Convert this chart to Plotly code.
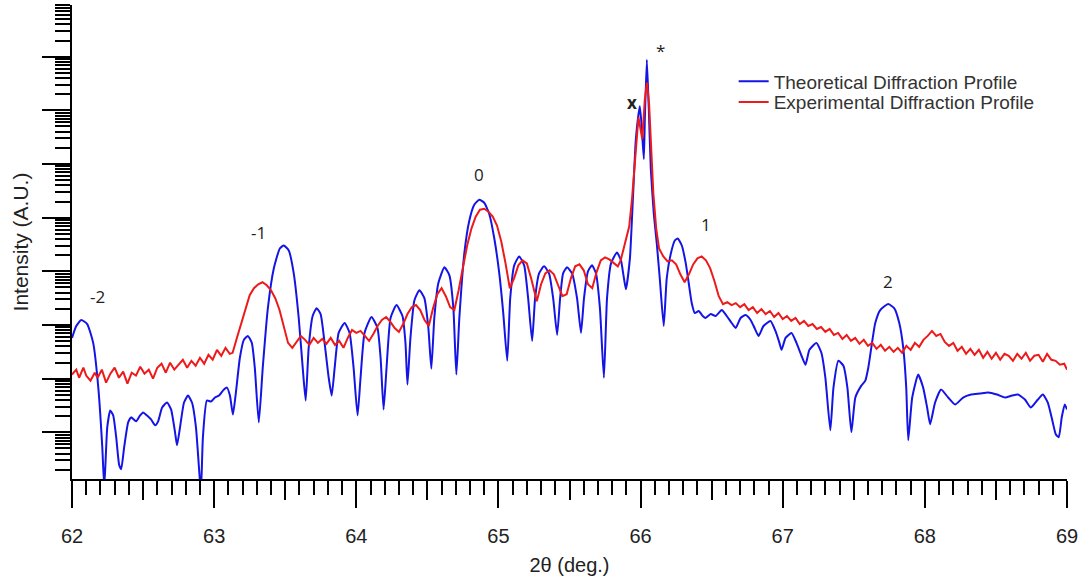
import plotly.graph_objects as go

# ---------------- data ----------------
x_ticks = [62, 63, 64, 65, 66, 67, 68, 69]
x_tick_labels = ["62", "63", "64", "65", "66", "67", "68", "69"]
x_half_ticks = [62.5, 63.5, 64.5, 65.5, 66.5, 67.5, 68.5]
y_major = [1, 10, 100, 1e3, 1e4, 1e5, 1e6, 1e7]

blue_x = [
    62.0, 62.030, 62.065, 62.107, 62.149, 62.185, 62.213, 62.227, 62.248, 62.269,
    62.290, 62.311, 62.332, 62.346, 62.367, 62.395, 62.416, 62.451, 62.479, 62.500,
    62.528, 62.556, 62.585, 62.606, 62.634, 62.669, 62.697, 62.725, 62.739, 62.760,
    62.788, 62.816, 62.844, 62.872, 62.893, 62.907, 62.921, 62.949, 62.978, 63.006,
    63.034, 63.062, 63.090, 63.111, 63.132, 63.153, 63.181, 63.209, 63.237, 63.265,
    63.286, 63.314, 63.342, 63.378, 63.420, 63.462, 63.490, 63.525, 63.560, 63.595,
    63.623, 63.644, 63.665, 63.693, 63.721, 63.749, 63.777, 63.806, 63.827, 63.848,
    63.876, 63.918, 63.953, 63.981, 64.009, 64.030, 64.058, 64.107, 64.149, 64.171,
    64.192, 64.213, 64.241, 64.283, 64.325, 64.346, 64.360, 64.381, 64.409, 64.444,
    64.479, 64.507, 64.528, 64.549, 64.577, 64.620, 64.655, 64.683, 64.704, 64.725,
    64.760, 64.795, 64.830, 64.865, 64.900, 64.935, 64.971, 65.006, 65.034, 65.062,
    65.083, 65.111, 65.146, 65.181, 65.209, 65.237, 65.258, 65.286, 65.321, 65.356,
    65.385, 65.413, 65.434, 65.455, 65.483, 65.518, 65.553, 65.581, 65.602, 65.630,
    65.658, 65.686, 65.714, 65.742, 65.764, 65.792, 65.834, 65.862, 65.883, 65.897,
    65.925, 65.946, 65.967, 65.995, 66.009, 66.023, 66.030, 66.044, 66.058, 66.072,
    66.093, 66.114, 66.135, 66.163, 66.184, 66.213, 66.241, 66.262, 66.290, 66.318,
    66.339, 66.360, 66.381, 66.409, 66.437, 66.458, 66.493, 66.528, 66.571, 66.606,
    66.641, 66.669, 66.704, 66.739, 66.774, 66.802, 66.830, 66.865, 66.914, 66.949,
    66.977, 66.992, 67.020, 67.062, 67.097, 67.132, 67.160, 67.188, 67.237, 67.272,
    67.300, 67.335, 67.357, 67.392, 67.427, 67.455, 67.483, 67.511, 67.553, 67.581,
    67.602, 67.623, 67.651, 67.686, 67.742, 67.784, 67.820, 67.848, 67.869, 67.883,
    67.911, 67.953, 67.988, 68.016, 68.037, 68.072, 68.114, 68.164, 68.213, 68.269,
    68.325, 68.388, 68.444, 68.507, 68.564, 68.613, 68.655, 68.704, 68.746, 68.795,
    68.830, 68.865, 68.900, 68.921, 68.942, 68.963, 68.984, 69.0,
]
blue_y = [
    57.4, 95.8, 124, 104, 46.4, 6.81, 0.528, 0.0958, 1.24, 2.56,
    2.06, 0.808, 0.245, 0.206, 0.528, 1.53, 1.90, 1.60, 2.06, 2.35,
    2.06, 1.74, 1.35, 1.60, 2.90, 3.59, 2.67, 1.00, 0.574, 1.24,
    3.59, 4.84, 3.59, 1.24, 0.225, 0.0774, 0.808, 3.91, 3.75, 4.45,
    4.84, 5.99, 6.81, 4.84, 2.15, 5.50, 24.5, 52.8, 62.6, 46.4,
    16.0, 1.53, 16.0, 206, 1137, 2666, 3030, 2448, 918, 135,
    16.0, 3.91, 37.5, 147, 206, 160, 46.4, 10.4, 4.84, 16.0,
    71.1, 109, 71.1, 16.0, 2.06, 10.4, 71.1, 141, 88.0, 24.5,
    2.67, 16.0, 135, 235, 147, 46.4, 7.74, 57.4, 290, 445,
    316, 88.0, 15.3, 135, 599, 1186, 843, 206, 11.9, 135,
    2154, 8799, 17408, 21544, 18957, 11861, 4084, 918, 167, 21.5,
    316, 1292, 1896, 1292, 316, 50.5, 316, 918, 1238, 918,
    316, 65.3, 316, 918, 1186, 918, 316, 71.1, 316, 1000,
    1292, 918, 206, 10.4, 316, 1407, 2248, 1599, 742, 464,
    1741, 22483, 290380, 1.19e6, 4.45e5, 1.24e5, 6.81e5, 8.80e6, 1.04e6, 8.08e4,
    1.19e4, 3300, 742, 95.8, 742, 2154, 3750, 4084, 3030, 1407,
    599, 256, 167, 182, 147, 135, 160, 147, 190, 147,
    109, 88.0, 135, 153, 124, 88.0, 62.6, 95.8, 119, 77.4,
    46.4, 34.4, 57.4, 71.1, 46.4, 26.7, 18.2, 34.4, 46.4, 30.3,
    10.4, 1.09, 6.81, 21.5, 17.4, 6.81, 1.00, 4.45, 7.42, 9.18,
    16.0, 37.5, 109, 190, 245, 206, 109, 37.5, 6.81, 0.711,
    4.45, 11.9, 6.81, 2.90, 1.41, 3.59, 6.26, 4.45, 3.30, 4.45,
    5.05, 5.27, 5.50, 5.05, 4.45, 4.84, 5.05, 4.08, 2.90, 4.08,
    5.05, 3.59, 1.53, 0.918, 0.808, 1.90, 3.30, 2.67,
]

red_x = [
    62.00, 62.03, 62.05, 62.08, 62.10, 62.13, 62.16, 62.18, 62.21, 62.24,
    62.27, 62.30, 62.33, 62.36, 62.39, 62.42, 62.45, 62.48, 62.51, 62.54,
    62.57, 62.60, 62.63, 62.66, 62.69, 62.72, 62.75, 62.78, 62.81, 62.84,
    62.87, 62.90, 62.93, 62.96, 62.99, 63.02, 63.05, 63.08, 63.11, 63.13,
    63.16, 63.19, 63.22, 63.25, 63.28, 63.31, 63.34, 63.37, 63.40, 63.43,
    63.46, 63.49, 63.52, 63.55, 63.58, 63.61, 63.64, 63.67, 63.70, 63.73,
    63.76, 63.79, 63.82, 63.85, 63.88, 63.91, 63.94, 63.97, 64.00, 64.03,
    64.06, 64.09, 64.12, 64.15, 64.18, 64.21, 64.24, 64.27, 64.30, 64.33,
    64.36, 64.39, 64.42, 64.45, 64.48, 64.51, 64.54, 64.57, 64.60, 64.63,
    64.66, 64.69, 64.72, 64.75, 64.78, 64.81, 64.84, 64.87, 64.90, 64.93,
    64.96, 64.99, 65.02, 65.05, 65.08, 65.11, 65.14, 65.17, 65.20, 65.23,
    65.27, 65.30, 65.33, 65.36, 65.39, 65.42, 65.45, 65.48, 65.51, 65.54,
    65.57, 65.60, 65.63, 65.66, 65.69, 65.72, 65.75, 65.78, 65.81, 65.84,
    65.86, 65.88, 65.90, 65.92, 65.94, 65.96, 65.985, 66.012, 66.03, 66.045,
    66.06, 66.075, 66.09, 66.11, 66.13, 66.16, 66.19, 66.22, 66.25, 66.28,
    66.31, 66.34, 66.37, 66.40, 66.43, 66.46, 66.49, 66.52, 66.55, 66.58,
    66.61, 66.64, 66.67, 66.70, 66.73, 66.76, 66.79, 66.82, 66.85, 66.88,
    66.91, 66.94, 66.97, 67.00, 67.03, 67.06, 67.09, 67.12, 67.15, 67.18,
    67.21, 67.24, 67.27, 67.30, 67.33, 67.36, 67.39, 67.42, 67.45, 67.48,
    67.51, 67.54, 67.57, 67.60, 67.63, 67.66, 67.69, 67.72, 67.75, 67.78,
    67.81, 67.84, 67.87, 67.90, 67.93, 67.96, 67.99, 68.02, 68.05, 68.08,
    68.11, 68.14, 68.17, 68.20, 68.23, 68.26, 68.29, 68.32, 68.35, 68.38,
    68.41, 68.44, 68.47, 68.50, 68.53, 68.56, 68.59, 68.62, 68.65, 68.68,
    68.71, 68.74, 68.77, 68.80, 68.83, 68.86, 68.89, 68.92, 68.95, 68.98,
    69.00,
]
red_y = [
    11.9, 14.7, 10.4, 16.0, 11.4, 9.18, 12.9, 10.4, 14.7, 8.43,
    12.4, 16.0, 10.4, 13.5, 8.08, 12.9, 11.4, 16.7, 12.4, 14.7,
    10.0, 16.0, 19.0, 12.9, 19.8, 14.7, 18.2, 22.5, 16.0, 21.5,
    17.4, 24.5, 19.0, 27.8, 22.5, 34.4, 26.7, 37.5, 29.0, 30.3,
    57.4, 109, 206, 359, 484, 574, 626, 550, 445, 316,
    190, 88.0, 46.4, 37.5, 48.4, 62.6, 52.8, 42.6, 57.4, 46.4,
    55.0, 44.5, 57.4, 42.6, 50.5, 37.5, 57.4, 80.8, 71.1, 77.4,
    62.6, 50.5, 68.1, 95.8, 124, 141, 114, 88.0, 74.2, 104,
    160, 215, 235, 190, 124, 95.8, 206, 375, 484, 344,
    215, 190, 445, 1238, 3030, 6256, 10436, 14066, 14678, 12915,
    10436, 7110, 3594, 1407, 484, 742, 1292, 1599, 1407, 742,
    278, 574, 918, 1044, 880, 550, 344, 375, 742, 1238,
    1348, 1044, 574, 484, 958, 1599, 1817, 1668, 1407, 1238,
    1599, 2666, 4448, 6813, 22483, 1.24e5, 7.42e5, 2.90e5, 1.60e6, 3.30e6,
    1.29e6, 1.90e5, 2.78e4, 6256, 2666, 1896, 1532, 1599, 1348, 880,
    626, 880, 1348, 1741, 1896, 1599, 1137, 653, 344, 245,
    267, 235, 256, 215, 245, 190, 215, 167, 198, 160,
    182, 141, 167, 129, 147, 119, 135, 104, 119, 95.8,
    104, 84.3, 91.8, 74.2, 84.3, 65.3, 71.1, 55.0, 65.3, 50.5,
    57.4, 44.5, 52.8, 40.8, 46.4, 35.9, 42.6, 33.0, 39.1, 31.6,
    37.5, 30.3, 40.8, 34.4, 46.4, 39.1, 52.8, 62.6, 77.4, 62.6,
    68.1, 48.4, 40.8, 46.4, 33.0, 39.1, 29.0, 35.9, 27.8, 34.4,
    24.5, 31.6, 23.5, 30.3, 22.5, 29.0, 26.7, 21.5, 29.0, 23.5,
    30.3, 21.5, 26.7, 27.8, 20.6, 29.0, 22.5, 21.5, 18.2, 19.0,
    14.7,
]

peak_labels = ["-2", "-1", "0", "<b>x</b>", "*", "1", "2"]
peak_label_x = [62.178, 63.314, 64.865, 65.939, 66.142, 66.458, 67.742]
peak_label_ypaper = [0.384, 0.520, 0.6415, 0.823, 0.933, 0.5367, 0.4172]

# ---------------- figure ----------------
y_minor = [k * 10.0 ** n for n in range(-1, 8) for k in range(2, 10)]

fig = go.Figure()
fig.add_trace(go.Scatter(x=blue_x, y=blue_y, mode="lines",
                         name="Theoretical Diffraction Profile",
                         legend="legend",
                         line=dict(color="#1414e6", width=2,
                                   shape="spline", smoothing=0.5)))
fig.add_trace(go.Scatter(x=red_x, y=red_y, mode="lines",
                         name="Experimental Diffraction Profile",
                         legend="legend2",
                         line=dict(color="#ee1a1a", width=2)))
fig.add_trace(go.Scatter(x=[], y=[], xaxis="x2", yaxis="y",
                         showlegend=False, hoverinfo="skip"))

for t, xv, yv in zip(peak_labels, peak_label_x, peak_label_ypaper):
    fig.add_annotation(x=xv, y=yv, xref="x", yref="paper", text=t,
                       showarrow=False,
                       font=dict(family="Open Sans", size=17, color="#222"))

legend_style = dict(xanchor="left", yanchor="top", bgcolor="rgba(0,0,0,0)",
                    font=dict(size=19, color="#333"))

fig.update_layout(
    width=1083, height=578,
    margin=dict(l=72, r=14, t=5, b=96),
    plot_bgcolor="white", paper_bgcolor="white",
    font=dict(family="Arial, 'Liberation Sans', sans-serif", size=18, color="#222"),
    showlegend=True,
    xaxis=dict(
        range=[62, 69], tickmode="array", tickvals=x_ticks, ticktext=x_tick_labels,
        ticks="outside", ticklen=27, tickwidth=2, tickcolor="black",
        showline=True, linecolor="black", linewidth=2,
        showgrid=False, zeroline=False, ticklabelstandoff=11,
        tickfont=dict(size=20, color="#222"),
        title=dict(text="2θ (deg.)", standoff=12, font=dict(size=20, color="#222")),
        minor=dict(ticks="outside", dtick=0.1, tick0=62, ticklen=14,
                   tickwidth=2, tickcolor="black", showgrid=False),
    ),
    xaxis2=dict(
        overlaying="x", anchor="y", side="bottom", range=[62, 69],
        tickmode="array", tickvals=x_half_ticks, ticks="outside", ticklen=20,
        tickwidth=2, tickcolor="black", showticklabels=False,
        showgrid=False, zeroline=False, showline=False,
    ),
    yaxis=dict(
        type="log", range=[-0.870, 7.963], tickmode="array", tickvals=y_major,
        ticks="outside", ticklen=28, tickwidth=2, tickcolor="black",
        showticklabels=False, showline=True, linecolor="black", linewidth=2,
        showgrid=False, zeroline=False,
        title=dict(text="Intensity (A.U.)", standoff=8, font=dict(size=21, color="#222")),
        minor=dict(ticks="outside", tickmode="array", tickvals=y_minor, ticklen=15,
                   tickwidth=1.5, tickcolor="black", showgrid=False),
    ),
    legend=dict(x=0.665, y=0.879, **legend_style),
    legend2=dict(x=0.665, y=0.835, **legend_style),
)

fig.write_html("out.html")
